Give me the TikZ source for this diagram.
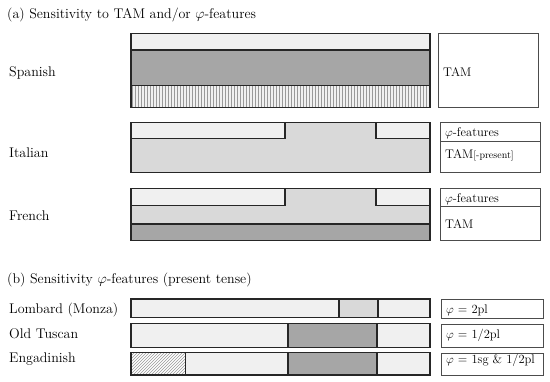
\documentclass[tikz,border=0pt]{standalone}
\usepackage{xcolor}
\definecolor{barlight}{gray}{0.94}
\definecolor{barmid}{gray}{0.85}
\definecolor{bardark}{gray}{0.65}
\usepackage{tikz}
\usetikzlibrary{patterns}

\begin{document}
\begin{tikzpicture}[x=1pt, y=-1pt,
  bar/.style={draw=black!85, line width=1.4pt},
  tagbox/.style={draw=black!70, line width=0.8pt},
  head/.style={anchor=base west, inner sep=0pt, font=\fontsize{14}{16}\selectfont},
  lang/.style={anchor=base west, inner sep=0pt, font=\fontsize{14}{16}\selectfont},
  tag/.style={anchor=base west, inner sep=0pt, font=\fontsize{12.5}{14}\selectfont}
]
\useasboundingbox (0,0) rectangle (550,382);

% (a) headings and languages
\node[head] (heada) at (7,19) {(a) Sensitivity to TAM and/or $\varphi$-features};
\node[lang] (spanish) at (9,77) {Spanish};
\node[lang] (italian) at (9,157.5) {Italian};
\node[lang] (french) at (9,221) {French};

% Spanish
\fill[barlight] (131,33.3) rectangle (430,50);
\fill[bardark] (131,50) rectangle (430,85.7);
\fill[barlight] (131,85.7) rectangle (430,107.7);
\fill[pattern=vertical lines, pattern color=black!40] (131,85.7) rectangle (430,107.7);
\draw[bar] (131,50) -- (430,50) (131,85.7) -- (430,85.7);
\draw[bar] (131,33.3) rectangle (430,107.7);
\draw[tagbox] (438.6,33.3) rectangle (538.6,107.7);
\node[tag] (tamspa) at (443,77) {TAM};

% Italian
\fill[barmid] (131,122.3) rectangle (430,172.3);
\fill[barlight] (131,122.3) rectangle (285,138.3);
\fill[barlight] (376,122.3) rectangle (430,138.3);
\draw[bar] (131,138.3) -| (285,122.3) (376,122.3) |- (430,138.3);
\draw[bar] (131,122.3) rectangle (430,172.3);
\draw[tagbox] (440.5,122.3) rectangle (540.5,172.3);
\draw[tagbox] (440.5,141.7) -- (540.5,141.7);
\node[tag] (phiita) at (445,136.5) {$\varphi$-features};
\node[tag] (tamita) at (445,158.3) {TAM{\fontsize{10}{12}\selectfont[-present]}};

% French
\fill[barmid] (131,188.3) rectangle (430,224);
\fill[barlight] (131,188.3) rectangle (285,205.7);
\fill[barlight] (376,188.3) rectangle (430,205.7);
\fill[bardark] (131,224) rectangle (430,240.7);
\draw[bar] (131,205.7) -| (285,188.3) (376,188.3) |- (430,205.7);
\draw[bar] (131,224) -- (430,224);
\draw[bar] (131,188.3) rectangle (430,240.7);
\draw[tagbox] (440.5,188.3) rectangle (540.5,240.7);
\draw[tagbox] (440.5,206.7) -- (540.5,206.7);
\node[tag] (phifre) at (445,202.3) {$\varphi$-features};
\node[tag] (tamfre) at (445,228.3) {TAM};

% (b) headings and languages
\node[head] (headb) at (7,283.3) {(b) Sensitivity $\varphi$-features (present tense)};
\node[lang] (lombard) at (9,313.3) {Lombard (Monza)};
\node[lang] (tuscan) at (9,338.3) {Old Tuscan};
\node[lang] (engadine) at (9,362.7) {Engadinish};

% Lombard
\fill[barlight] (131,299) rectangle (430,317.7);
\fill[barmid] (339,299) rectangle (378,317.7);
\draw[bar] (339,299) -- (339,317.7) (378,299) -- (378,317.7);
\draw[bar] (131,299) rectangle (430,317.7);
\draw[tagbox] (441,299.3) rectangle (543,318.3);
\node[tag] (phillom) at (446,314) {$\varphi$ = 2pl};

% Old Tuscan
\fill[barlight] (131,323.7) rectangle (430,347.3);
\fill[bardark] (288,323.7) rectangle (377,347.3);
\draw[bar] (288,323.7) -- (288,347.3) (377,323.7) -- (377,347.3);
\draw[bar] (131,323.7) rectangle (430,347.3);
\draw[tagbox] (441,324.7) rectangle (543,347.3);
\node[tag] (phitus) at (446,339) {$\varphi$ = 1/2pl};

% Engadinish
\fill[barlight] (131,352.7) rectangle (430,375);
\fill[white] (131,352.7) rectangle (185.3,375);
\fill[pattern=north east lines, pattern color=black!40] (131,352.7) rectangle (185.3,375);
\fill[bardark] (288,352.7) rectangle (377,375);
\draw[bar] (185.3,352.7) -- (185.3,375) (288,352.7) -- (288,375) (377,352.7) -- (377,375);
\draw[bar] (131,352.7) rectangle (430,375);
\draw[tagbox] (441,353.3) rectangle (543,375.7);
\node[tag] (phieng) at (446,363.3) {$\varphi$ = 1sg \& 1/2pl};
\end{tikzpicture}
\end{document}
